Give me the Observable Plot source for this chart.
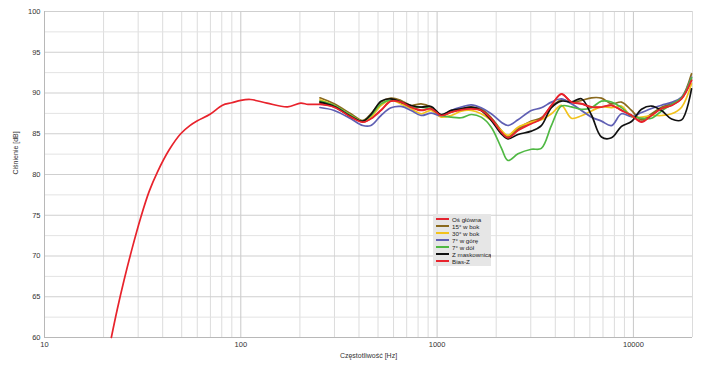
<!DOCTYPE html>
<html><head><meta charset="utf-8">
<script src="https://cdn.jsdelivr.net/npm/d3@7"></script>
<script src="https://cdn.jsdelivr.net/npm/@observablehq/plot@0.6"></script>
<style>
body{margin:0;background:#fff;font-family:"Liberation Sans",Arial,sans-serif;}
#wrap{position:relative;width:705px;height:371px;}
#legend{position:absolute;left:433px;top:214px;width:58px;height:52px;background:#e6e6e6;font-size:6.2px;color:#222;padding-top:1.5px;box-sizing:border-box;white-space:nowrap;overflow:hidden;}
.row{display:flex;align-items:center;height:7px;line-height:7px;}
.sw{width:13px;height:1.6px;margin-left:3px;margin-right:3px;flex:none;}
</style></head>
<body><div id="wrap"><div id="chart"></div><div id="legend"></div></div>
<script>
const seriesNames = ["Oś główna","15° w bok","30° w bok","7° w górę","7° w dół","Z maskownicą","Bias-Z"];
const seriesColors = ["#e32430","#8a6a1e","#f2c21c","#5f5fb3","#4fb843","#111111","#e8232c"];
const xTicks = [10,100,1000,10000];
const yTicks = [60,65,70,75,80,85,90,95,100];

const freqLow = [21.9,23.5,25.4,28,30.9,34.1,37.6,43.1,49.4,55,60.1,69.7,80.7,90,100,112,136,173,202,220];
const biasZLow = [60,63.5,67.0,71.0,74.7,77.9,80.3,83.0,85.0,86.0,86.6,87.4,88.5,88.8,89.1,89.2,88.75,88.3,88.75,88.6];

const freq = [253,299,364,418,460,518,582,655,737,829,932,1049,1179,1326,1491,1677,1887,2123,2296,2583,3020,3396,3820,4297,4833,5435,6113,6875,7732,8696,9780,11000,12370,13910,15650,17600,19770];

const osGlowna = [88.7,88.3,87.1,86.45,86.9,87.9,89.05,88.9,88.3,87.9,88.1,87.3,87.7,88.0,88.1,87.9,86.9,85.3,84.55,85.45,86.3,86.9,88.5,89.85,88.9,88.7,88.3,88.3,88.5,87.9,87.3,86.5,87.3,88.1,88.5,89.3,91.6];
const bok15 = [89.41,88.67,87.45,86.63,87.45,88.88,89.37,89.08,88.47,88.67,88.26,87.24,87.65,88.06,88.26,88.06,86.96,85.4,84.58,85.61,86.55,86.96,88.26,89.16,88.88,89.08,89.41,89.37,88.67,88.88,87.86,86.71,87.45,88.26,88.67,89.41,92.35];
const bok30 = [89.16,88.47,87.24,86.55,87.04,88.47,89.08,88.67,88.06,87.45,87.86,87.04,87.24,87.77,87.86,87.45,86.63,85.4,84.79,85.81,86.42,86.71,87.45,88.47,86.9,87.2,87.8,88.3,88.2,88.4,87.1,87.04,87.24,87.24,87.45,88.26,91.13];
const gora7 = [88.22,87.86,86.83,86.01,86.01,87.24,88.18,88.35,87.86,87.24,87.53,87.24,87.86,88.26,88.55,88.18,87.45,86.42,86.01,86.71,87.86,88.18,88.88,89.29,88.67,87.86,87.04,86.55,86.0,87.45,87.1,87.6,88.1,88.5,88.85,89.5,91.94];
const dol7 = [89.0,88.47,87.24,86.55,87.24,88.67,89.16,88.88,88.26,88.26,88.06,87.24,87.04,86.96,87.36,87.04,85.81,83.27,81.72,82.54,83.1,83.2,86.0,88.4,88.3,88.0,88.2,89.0,88.9,88.2,87.2,86.9,86.9,87.8,88.6,89.4,91.86];
const maskownica = [88.88,88.35,87.12,86.55,87.36,89.0,89.29,88.88,88.47,88.26,88.35,87.36,87.86,88.06,88.26,87.86,86.63,84.99,84.38,84.91,85.32,86.0,88.2,89.0,88.9,89.3,87.3,84.6,84.5,85.9,86.5,88.0,88.4,87.85,86.8,86.7,90.51];
const biasZ = [88.6,88.26,87.04,86.42,86.83,87.86,89.0,88.88,88.26,87.86,88.06,87.24,87.65,87.94,88.06,87.86,86.83,85.2,84.5,85.4,86.22,86.83,88.47,89.9,88.88,88.67,88.26,88.26,88.47,87.86,87.24,86.42,87.24,88.06,88.47,89.29,91.54];

const seriesValues = [osGlowna,bok15,bok30,gora7,dol7,maskownica,biasZ];

const rows = [];
seriesNames.forEach((name,i)=>{
  if (name === "Bias-Z") freqLow.forEach((f,j)=>rows.push({series:name,f,db:biasZLow[j]}));
  freq.forEach((f,j)=>rows.push({series:name,f,db:seriesValues[i][j]}));
});

const xGrid = [];
for (const d of [10,100,1000,10000]) for (let k=1;k<=9;k++) if (d*k<=20000) xGrid.push(d*k);
xGrid.push(20000);
const xMajor = xGrid.filter(v=>[10,100,1000,10000].includes(v));
const xMinor = xGrid.filter(v=>!xMajor.includes(v));
const yMinor = d3.range(62.5,100,5);

const chart = Plot.plot({
  width:705, height:371,
  marginLeft:44, marginRight:13, marginTop:11, marginBottom:34,
  style:{fontFamily:"Liberation Sans, Arial, sans-serif", fontSize:"7.5px", color:"#333", background:"#fff"},
  x:{type:"log", domain:[10,20000]},
  y:{domain:[60,100]},
  color:{domain:seriesNames, range:seriesColors},
  marks:[
    Plot.ruleX(xMinor,{stroke:"#dcdcdc",strokeWidth:1}),
    Plot.ruleY(yMinor,{stroke:"#e3e3e3",strokeWidth:1}),
    Plot.ruleX(xMajor,{stroke:"#c8c8c8",strokeWidth:1}),
    Plot.ruleY(yTicks,{stroke:"#cfcfcf",strokeWidth:1}),
    Plot.ruleX([10],{stroke:"#b8b8b8"}),
    Plot.ruleY([60],{stroke:"#b8b8b8"}),
    Plot.axisX({ticks:xTicks, tickSize:0, tickPadding:4, tickFormat:d=>String(d), label:null}),
    Plot.axisY({ticks:yTicks, tickSize:0, tickPadding:4, label:null}),
    Plot.text(["Częstotliwość [Hz]"],{frameAnchor:"bottom", dy:20, fontSize:7, fill:"#333"}),
    Plot.text(["Ciśnienie [dB]"],{frameAnchor:"left", dx:-29, rotate:-90, fontSize:7, fill:"#333"}),
    Plot.line(rows,{x:"f", y:"db", z:"series", stroke:"series", strokeWidth:1.7, curve:"catmull-rom"})
  ]
});
document.getElementById("chart").appendChild(chart);

const leg = document.getElementById("legend");
seriesNames.forEach((n,i)=>{
  const r = document.createElement("div"); r.className="row";
  const s = document.createElement("span"); s.className="sw"; s.style.background=seriesColors[i];
  const t = document.createElement("span"); t.textContent=n;
  r.appendChild(s); r.appendChild(t); leg.appendChild(r);
});
</script></body></html>
